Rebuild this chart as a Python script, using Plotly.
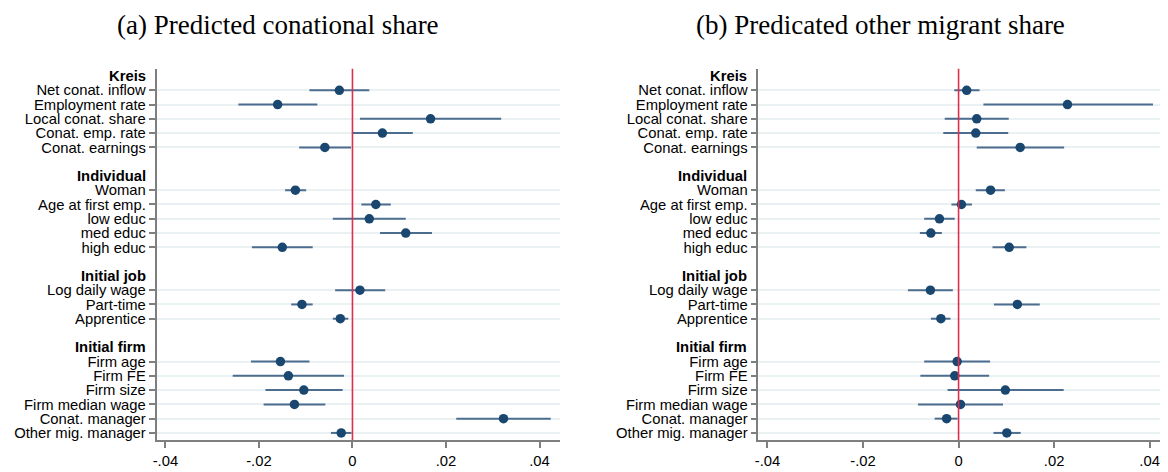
import plotly.graph_objects as go

# DATA======================================================= #
groups = ["Kreis", "Individual", "Initial job", "Initial firm"]
group_vars = [
    ["Net conat. inflow", "Employment rate", "Local conat. share", "Conat. emp. rate", "Conat. earnings"],
    ["Woman", "Age at first emp.", "low educ", "med educ", "high educ"],
    ["Log daily wage", "Part-time", "Apprentice"],
    ["Firm age", "Firm FE", "Firm size", "Firm median wage", "Conat. manager", "Other mig. manager"],
]

# (a) predicted conational share
conat_coef = [-0.0028, -0.0160, 0.0167, 0.0064, -0.0059,
              -0.0122, 0.0050, 0.0036, 0.0114, -0.0150,
              0.0016, -0.0108, -0.0026,
              -0.0154, -0.0137, -0.0104, -0.0124, 0.0323, -0.0024]
conat_lo = [-0.0092, -0.0244, 0.0016, 0.0000, -0.0114,
            -0.0144, 0.0019, -0.0042, 0.0059, -0.0215,
            -0.0037, -0.0131, -0.0042,
            -0.0217, -0.0256, -0.0186, -0.0190, 0.0222, -0.0046]
conat_hi = [0.0036, -0.0075, 0.0318, 0.0129, -0.0003,
            -0.0099, 0.0082, 0.0114, 0.0170, -0.0085,
            0.0070, -0.0085, -0.0009,
            -0.0092, -0.0018, -0.0021, -0.0058, 0.0424, -0.0002]

# (b) predicted other migrant share
other_coef = [0.0017, 0.0228, 0.0038, 0.0036, 0.0129,
              0.0067, 0.0006, -0.0040, -0.0058, 0.0106,
              -0.0059, 0.0123, -0.0037,
              -0.0003, -0.0008, 0.0098, 0.0004, -0.0025, 0.0101]
other_lo = [-0.0009, 0.0052, -0.0029, -0.0032, 0.0038,
            0.0036, -0.0015, -0.0072, -0.0081, 0.0071,
            -0.0106, 0.0074, -0.0058,
            -0.0072, -0.0080, -0.0023, -0.0085, -0.0050, 0.0073]
other_hi = [0.0044, 0.0407, 0.0105, 0.0104, 0.0221,
            0.0097, 0.0028, -0.0008, -0.0035, 0.0142,
            -0.0012, 0.0170, -0.0017,
            0.0066, 0.0064, 0.0220, 0.0093, -0.0002, 0.0130]

x_ticks = [-0.04, -0.02, 0, 0.02, 0.04]
x_tick_labels = ["-.04", "-.02", "0", ".02", ".04"]

# ROW POSITIONS=============================================== #
header_rows = []
var_rows = []
var_labels = []
pos = 0
for g, vars_ in zip(groups, group_vars):
    header_rows.append(pos)
    pos += 1
    for v in vars_:
        var_rows.append(pos)
        var_labels.append(v)
        pos += 1
    pos += 1  # blank row between groups
last_row = var_rows[-1]

# STYLE====================================================== #
# the page has an 8px body margin, so the figure is drawn 8px smaller
W, H = 1160, 464

marker_color = "#1a476f"
ci_color = "#4d6d8f"
axis_color = "#7f7f7f"
grid_color = "#eaf1f3"
ref_color = "#dc2f50"
label_font = dict(family="Liberation Sans, Arial", size=14.8, color="black")
title_font = dict(family="Liberation Serif, Times New Roman", size=27, color="black")

fig = go.Figure()

panels = [
    ("x", "y", conat_coef, conat_lo, conat_hi),
    ("x2", "y2", other_coef, other_lo, other_hi),
]
for xa, ya, coef, lo, hi in panels:
    fig.add_trace(go.Scatter(
        x=coef, y=var_rows, xaxis=xa, yaxis=ya, mode="markers",
        marker=dict(color=marker_color, size=9.5),
        error_x=dict(type="data", symmetric=False,
                     array=[h - c for h, c in zip(hi, coef)],
                     arrayminus=[c - l for c, l in zip(coef, lo)],
                     color=ci_color, thickness=2, width=0),
        showlegend=False, cliponaxis=False,
    ))
    fig.add_shape(type="line", xref=xa, yref=ya + " domain", x0=0, x1=0, y0=0, y1=1,
                  line=dict(color=ref_color, width=1.6), layer="above")
    for g, r in zip(groups, header_rows):
        fig.add_annotation(text="<b>" + g + "</b>", xref=xa + " domain", yref=ya,
                           x=0, y=r, xanchor="right", yanchor="middle", xshift=-9,
                           showarrow=False, font=label_font)

xaxis_style = dict(
    tickvals=x_ticks, ticktext=x_tick_labels, showgrid=False, zeroline=False,
    showline=True, linecolor=axis_color, linewidth=1.5,
    ticks="outside", ticklen=6, tickcolor=axis_color, tickwidth=1.5,
    tickfont=label_font,
)
yaxis_style = dict(
    tickvals=var_rows, ticktext=var_labels, range=[last_row + 0.5, -0.5],
    showgrid=True, gridcolor=grid_color, gridwidth=2, zeroline=False,
    showline=True, linecolor=axis_color, linewidth=1.5,
    ticks="outside", ticklen=6, tickcolor=axis_color, tickwidth=1.5,
    tickfont=label_font,
)

fig.update_layout(
    width=W, height=H,
    margin=dict(l=0, r=0, t=0, b=0),
    plot_bgcolor="white", paper_bgcolor="white",
    xaxis=dict(domain=[145 / W, 550 / W], range=[-0.0419, 0.0444], anchor="y", **xaxis_style),
    yaxis=dict(domain=[1 - 433 / H, 1 - 61 / H], anchor="x", **yaxis_style),
    xaxis2=dict(domain=[749 / W, 1155 / W], range=[-0.0419, 0.0428], anchor="y2", **xaxis_style),
    yaxis2=dict(domain=[1 - 433 / H, 1 - 61 / H], anchor="x2", **yaxis_style),
)

fig.add_annotation(text="(a) Predicted conational share", xref="paper", yref="paper",
                   x=267 / W, y=1, xanchor="center", yanchor="top",
                   showarrow=False, font=title_font)
fig.add_annotation(text="(b) Predicated other migrant share", xref="paper", yref="paper",
                   x=872 / W, y=1, xanchor="center", yanchor="top",
                   showarrow=False, font=title_font)

fig.write_html("out.html")
